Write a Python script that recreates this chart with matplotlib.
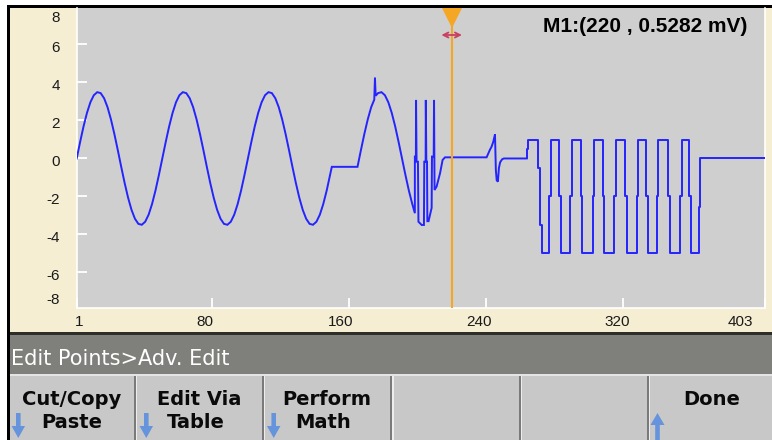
import numpy as np
import matplotlib
matplotlib.use("Agg")
import matplotlib.pyplot as plt
import matplotlib.transforms as mtransforms
from matplotlib.patches import Rectangle, FancyArrow

# ---------------- data (sample index, value) ----------------
sine_x = np.arange(1, 151, 2)
sine_y = [
    0.00, 0.87, 1.69, 2.40, 2.96, 3.33, 3.49, 3.44, 3.17, 2.70, 2.06, 1.29, 0.44,
    -0.44, -1.29, -2.06, -2.70, -3.17, -3.44, -3.49, -3.33, -2.96, -2.40, -1.69, -0.87,
    0.00, 0.87, 1.69, 2.40, 2.96, 3.33, 3.49, 3.44, 3.17, 2.70, 2.06, 1.29, 0.44,
    -0.44, -1.29, -2.06, -2.70, -3.17, -3.44, -3.49, -3.33, -2.96, -2.40, -1.69, -0.87,
    0.00, 0.87, 1.69, 2.40, 2.96, 3.33, 3.49, 3.44, 3.17, 2.70, 2.06, 1.29, 0.44,
    -0.44, -1.29, -2.06, -2.70, -3.17, -3.44, -3.49, -3.33, -2.96, -2.40, -1.69, -0.87,
]
hold_x = [150, 165]
hold_y = [-0.44, -0.44]
arb_x = [167, 169, 171, 173, 174.8, 175.2, 175.6, 177, 179, 181, 183, 185, 187, 189,
         191, 193, 195, 197, 198.5, 198.5, 199.1, 199.2, 199.5, 200.3, 200.6, 202.5,
         203.8, 204.0, 204.8, 204.9, 205.2, 205.6, 205.8, 206.5, 208.3, 208.5, 209.5,
         209.7, 210.0, 211.2, 213.2, 214.7, 216.1]
arb_y = [0.44, 1.29, 2.06, 2.70, 3.10, 4.25, 3.30, 3.44, 3.49, 3.33, 2.96, 2.40, 1.69,
         0.87, 0.00, -0.87, -1.69, -2.40, -2.88, 0.10, 0.10, 3.08, -0.17, -0.17, -3.33,
         -3.50, -3.50, -0.17, -0.17, 3.08, -0.17, -0.17, -3.30, -3.30, -2.60, 0.10, 0.10,
         3.08, -1.66, -1.48, -0.78, -0.08, 0.06]
blip_x = [240.4, 242.3, 243.3, 244.3, 245.3, 245.8, 246.3, 247.0, 247.6, 248.3, 249.5, 250.5, 263.8]
blip_y = [0.06, 0.45, 0.62, 0.88, 1.27, -0.60, -1.15, -1.22, -0.50, -0.20, -0.04, 0.00, 0.00]
square_x = [263.8, 263.8, 264.7, 270.5, 271.5, 272.5, 276.9, 277.9, 282.8, 283.8, 289.1,
            290.1, 295.3, 296.2, 302.3, 303.2, 308.2, 309.1, 314.8, 315.7, 321.2, 322.2,
            328.0, 329.0, 333.5, 334.4, 339.7, 340.6, 346.5, 347.5, 353.3, 354.3, 358.7,
            359.7, 364.6, 365.0, 403]
square_y = [0.00, 0.48, 0.97, -0.52, -3.50, -5.00, -2.00, 0.97, -2.00, -5.00, -2.00,
            0.97, -2.00, -5.00, -2.00, 0.97, -2.00, -5.00, -2.00, 0.97, -2.00, -5.00,
            -2.00, 0.97, -2.00, -5.00, -2.00, 0.97, -2.00, -5.00, -2.00, 0.97, -2.00,
            -5.00, -2.54, 0.00, 0.00]

marker_x = 220
marker_text = "M1:(220 , 0.5282 mV)"
xticks = [1, 80, 160, 240, 320, 403]
yticks = [-6, -4, -2, 0, 2, 4, 6]
y_edge_labels = ["8", "-8"]
header_text = "Edit Points>Adv. Edit"
buttons = [("Cut/Copy", "Paste", 72, 72, "down", 18.3),
           ("Edit Via", "Table", 199, 196, "down", 146.3),
           ("Perform", "Math", 327, 323, "down", 273.7),
           ("Done", "", 712, 712, "up", 657.5)]

# ---------------- figure ----------------
W, H = 772, 440
fig = plt.figure(figsize=(W / 100, H / 100), dpi=100)
fig.patch.set_facecolor("white")
pix = mtransforms.Affine2D().scale(1 / 100, -1 / 100).translate(0, H / 100) + fig.dpi_scale_trans


def rect(x0, y0, x1, y1, color, z=-5):
    fig.add_artist(Rectangle((x0, y0), x1 - x0, y1 - y0, transform=pix,
                             facecolor=color, edgecolor="none", zorder=z))


# panels
rect(10, 8, 772, 332, "#F6EED3")
rect(7, 5, 772, 8, "black")
rect(7, 5, 10, 440, "black")
rect(10, 332, 772, 335, "#2E2E28")
rect(10, 335, 772, 374, "#7F807B")
rect(10, 374, 772, 376, "#E4E4E4")
rect(10, 376, 772, 440, "#C8C8C8")
for sx in [134.5, 262.5, 391, 519.5, 647.5]:
    rect(sx - 1, 376, sx + 1, 440, "#7A7A7A")
    rect(sx + 1, 376, sx + 2.5, 440, "#EDEDED")

# axes
L, R, T, B = 76.7, 765, 8, 308
ax = fig.add_axes([L / W, 1 - B / H, (R - L) / W, (B - T) / H])
ax.set_facecolor("#CFCFCF")
ax.set_xlim(1, 403)
ax.set_ylim(-7.87, 7.92)
for s in ["left", "bottom", "right"]:
    ax.spines[s].set_color("white")
    ax.spines[s].set_linewidth(1.2)
ax.spines["top"].set_visible(False)

smooth_x = list(sine_x) + hold_x + arb_x + blip_x
smooth_y = list(sine_y) + hold_y + arb_y + blip_y
ax.plot(smooth_x, smooth_y, color="#2424FF", lw=1.4, zorder=3, solid_joinstyle="miter")
ax.plot(square_x, square_y, color="#2424FF", lw=1.4, zorder=3, drawstyle="steps-post")

# ticks
ax.set_xticks(xticks)
ax.set_xticklabels([str(v) for v in xticks])
ax.set_yticks(yticks)
ax.set_yticklabels([str(v) for v in yticks])
ax.tick_params(direction="in", color="white", length=7.5, width=1.3,
               labelsize=11, labelcolor="#1A1A1A")
ax.tick_params(axis="x", pad=5)
ax.tick_params(axis="y", pad=12)
for lab in ax.get_xticklabels() + ax.get_yticklabels():
    lab.set_fontfamily("Liberation Sans")
xoffs = [2, -7, -8, -7, -6, -25]
for lab, dx in zip(ax.get_xticklabels(), xoffs):
    lab.set_transform(lab.get_transform() + mtransforms.ScaledTranslation(dx / 100, 0, fig.dpi_scale_trans))
for lab in ax.get_yticklabels():
    lab.set_transform(lab.get_transform() + mtransforms.ScaledTranslation(0, -2 / 100, fig.dpi_scale_trans))
ytr = ax.get_yaxis_transform()
ax.text((60 - L) / (R - L), 7.39, y_edge_labels[0], transform=ytr, ha="right", va="center",
        fontsize=11, family="Liberation Sans", color="#1A1A1A", clip_on=False)
ax.text((60 - L) / (R - L), -7.45, y_edge_labels[1], transform=ytr, ha="right", va="center",
        fontsize=11, family="Liberation Sans", color="#1A1A1A", clip_on=False)

# marker
ax.axvline(marker_x, color="#F5A623", lw=1.5, zorder=4)
xtr = ax.get_xaxis_transform()
ax.plot([marker_x], [1 - 9.5 / (B - T)], marker="v", ms=14.4, color="#F5A623",
        mew=0, transform=xtr, clip_on=False, zorder=5)
ax.annotate("", xy=(marker_x + 6, 1 - 27 / (B - T)), xytext=(marker_x - 6, 1 - 27 / (B - T)),
            xycoords=xtr, textcoords=xtr,
            arrowprops=dict(arrowstyle="<->", color="#C8405E", lw=1.3, mutation_scale=9,
                            shrinkA=0, shrinkB=0), zorder=5)
fig.text(543 / W, 1 - 31.7 / H, marker_text, fontsize=15, fontweight="bold",
         family="Liberation Sans", ha="left", va="baseline", color="black")

# header
fig.text(10.7 / W, 1 - 365 / H, header_text, fontsize=15, family="DejaVu Sans",
         color="white", ha="left", va="baseline")

# buttons
for l1, l2, c1, c2, arr, axx in buttons:
    fig.text(c1 / W, 1 - 404.5 / H, l1, fontsize=14, fontweight="bold",
             family="DejaVu Sans", ha="center", va="baseline", color="#0A0A0A")
    if l2:
        fig.text(c2 / W, 1 - 428 / H, l2, fontsize=14, fontweight="bold",
                 family="DejaVu Sans", ha="center", va="baseline", color="#0A0A0A")
    if arr == "down":
        a = FancyArrow(axx, 413, 0, 25, width=4.6, head_width=13.5, head_length=12,
                       length_includes_head=True, transform=pix, color="#6593DC", lw=0)
    else:
        a = FancyArrow(axx, 441, 0, -28, width=4.6, head_width=14, head_length=12,
                       length_includes_head=True, transform=pix, color="#6593DC", lw=0)
    fig.add_artist(a)

fig.savefig("out.png", dpi=100, facecolor=fig.get_facecolor())
